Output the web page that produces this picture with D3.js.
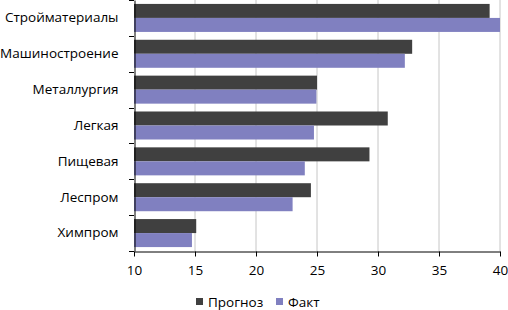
<!DOCTYPE html>
<html>
<head>
<meta charset="utf-8">
<script src="https://cdn.jsdelivr.net/npm/d3@7"></script>
<style>
  body { margin: 0; background: #fff; }
  text { font-family: 'Open Sans', sans-serif; fill: #000; }
</style>
</head>
<body>
<div id="chart"></div>
<script>
const categories = ['Стройматериалы', 'Машиностроение', 'Металлургия', 'Легкая', 'Пищевая', 'Леспром', 'Химпром']
const forecast = [39.15, 32.8, 25.0, 30.8, 29.3, 24.5, 15.1]
const fact = [40.0, 32.2, 24.95, 24.75, 24.0, 23.0, 14.75]
const seriesNames = ['Прогноз', 'Факт']
const colors = ['#404040', '#8080c0']
const xTicks = [10, 15, 20, 25, 30, 35, 40]

const W = 508
const H = 310
const margin = { top: 0, right: 8, bottom: 59, left: 134 }
const width = W - margin.left - margin.right
const height = H - margin.top - margin.bottom
const fontSize = '13.5px'

const svg = d3.select('#chart').append('svg')
  .attr('width', W)
  .attr('height', H)

const g = svg.append('g')
  .attr('transform', `translate(${margin.left},${margin.top})`)

const x = d3.scaleLinear().domain([10, 40]).range([0, width])
const y = d3.scaleBand().domain(categories).range([0, height])
const sub = d3.scaleBand().domain(seriesNames).range([0, y.bandwidth()]).paddingOuter(0.28).paddingInner(0)

// gridlines
g.selectAll('.grid')
  .data(xTicks.slice(1))
  .enter()
  .append('line')
  .attr('x1', d => x(d))
  .attr('x2', d => x(d))
  .attr('y1', 0)
  .attr('y2', height)
  .attr('stroke', '#c6c6c6')
  .attr('stroke-width', 1)

const rows = categories.map((c, i) => ({ cat: c, values: [forecast[i], fact[i]] }))

g.selectAll('.row')
  .data(rows)
  .enter()
  .append('g')
  .attr('transform', d => `translate(0,${y(d.cat)})`)
  .selectAll('rect')
  .data(d => d.values.map((v, j) => ({ name: seriesNames[j], v, j })))
  .enter()
  .append('rect')
  .attr('x', 0)
  .attr('y', d => sub(d.name))
  .attr('width', d => x(d.v) - x(10))
  .attr('height', sub.bandwidth())
  .attr('fill', d => colors[d.j])

// left axis
const yAxis = g.append('g')
  .attr('transform', 'translate(0.5,0)')
  .call(d3.axisLeft(y).tickSize(0).tickPadding(16))
yAxis.select('.domain').attr('stroke', '#000')
yAxis.selectAll('text').style('font-size', fontSize).style('font-family', "'Open Sans', sans-serif")

// band boundary ticks on left axis
g.selectAll('.btick')
  .data(d3.range(categories.length + 1))
  .enter()
  .append('line')
  .attr('x1', -5)
  .attr('x2', 0)
  .attr('y1', i => Math.round(i * y.step()) + 0.5)
  .attr('y2', i => Math.round(i * y.step()) + 0.5)
  .attr('stroke', '#000')

// bottom axis
const xAxis = g.append('g')
  .attr('transform', `translate(0,${height + 0.5})`)
  .call(d3.axisBottom(x).tickValues(xTicks).tickSize(5).tickSizeOuter(0).tickPadding(9))
xAxis.select('.domain').attr('stroke', '#000')
xAxis.selectAll('line').attr('stroke', '#000')
xAxis.selectAll('text').style('font-size', fontSize).style('font-family', "'Open Sans', sans-serif")

// legend
const legend = svg.append('g')
  .attr('transform', 'translate(196,302)')
const legendX = [0, 80]
seriesNames.forEach((name, i) => {
  const item = legend.append('g').attr('transform', `translate(${legendX[i]},0)`)
  item.append('rect')
    .attr('x', 0)
    .attr('y', -4)
    .attr('width', 7)
    .attr('height', 7)
    .attr('fill', colors[i])
  item.append('text')
    .attr('x', 12)
    .attr('y', 0)
    .attr('dy', '0.35em')
    .style('font-size', fontSize)
    .text(name)
})
</script>
</body>
</html>
